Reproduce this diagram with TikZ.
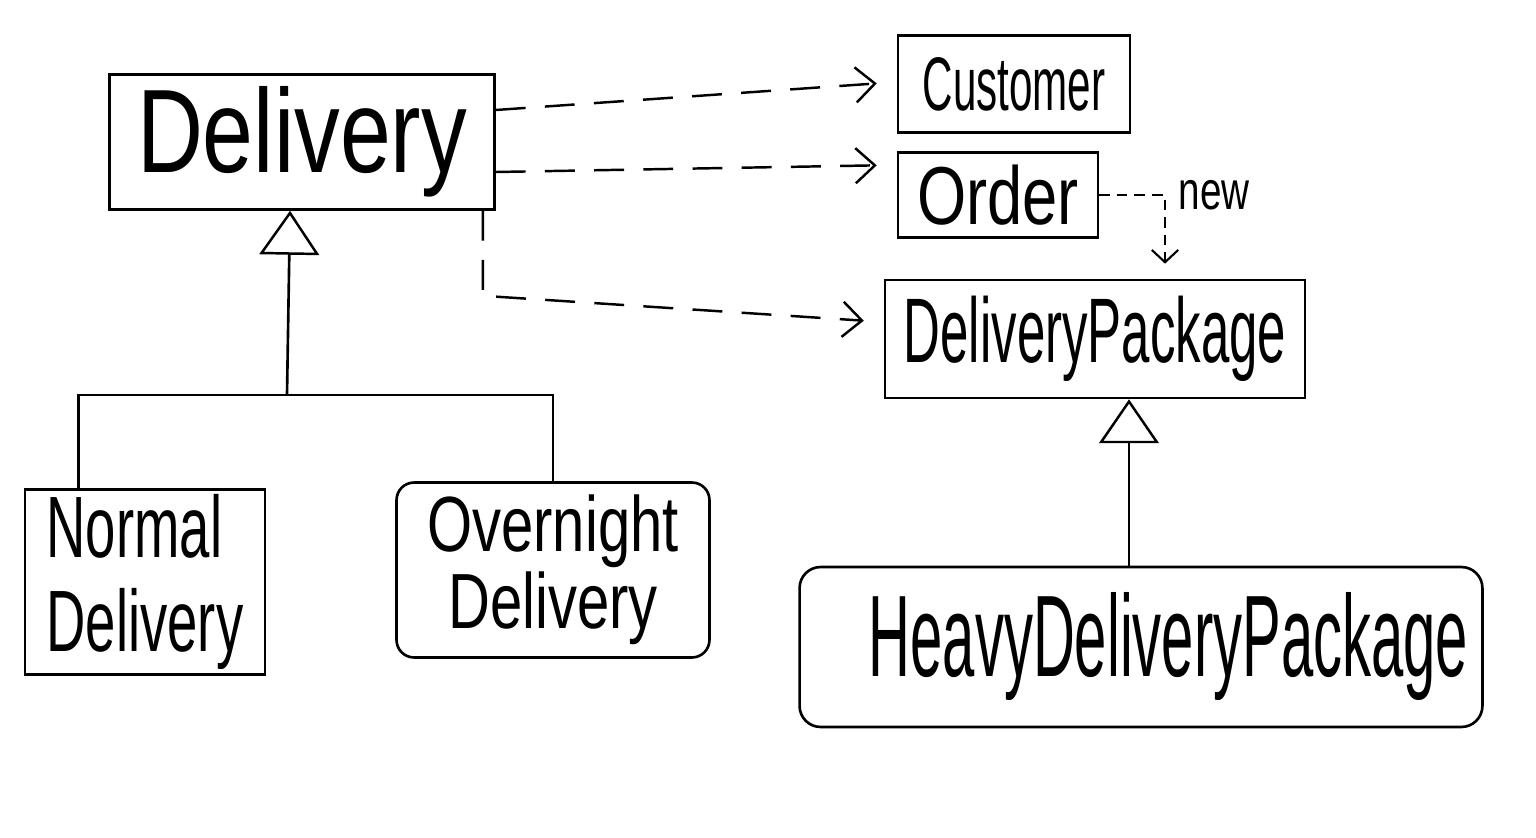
\documentclass[tikz,border=0pt]{standalone}
\usepackage{fontspec}
\setmainfont{Liberation Sans}
\usetikzlibrary{arrows.meta,calc}
\newcommand{\tallt}[2][1.45]{\scalebox{1}[#1]{#2}}
\tikzset{
  cls/.style={draw=black,line width=1.5pt,inner sep=0pt,align=center},
  dep/.style={-{Straight Barb[length=11pt,width=20pt,line width=1.4pt]},line width=1.4pt,dash pattern=on 17pt off 11pt,shorten >=0.4cm},
  newdep/.style={-{Straight Barb[length=7pt,width=15pt,line width=1.2pt]},line width=1.2pt,dash pattern=on 6pt off 4pt,shorten >=0.3cm},
  gen/.style={-{Triangle[open,length=25pt,width=34pt,line width=1.4pt]},line width=1.5pt},
  tree/.style={line width=1.5pt},
}
\begin{document}
\begin{tikzpicture}[x=0.02cm,y=-0.02cm]
  \useasboundingbox[fill=white] (0,0) rectangle (1536,838);
  % classes
  \node[cls,minimum width=7.7cm,minimum height=2.7cm,font={\fontsize{52}{60}\selectfont}] (delivery) at (302,142)
    {\tallt[1.3]{Delivery}};
  \node[cls,minimum width=4.64cm,minimum height=1.94cm,font={\fontsize{24}{28}\selectfont}] (customer) at (1014,84)
    {\tallt[1.8]{Customer}};
  \node[cls,minimum width=4cm,minimum height=1.7cm,font={\fontsize{36}{40}\selectfont}] (order) at (998,195)
    {\tallt[1.3]{Order}};
  \node[cls,minimum width=8.4cm,minimum height=2.36cm,font={\fontsize{29}{34}\selectfont}] (dpkg) at (1095,339)
    {\tallt[1.8]{DeliveryPackage}};
  \node[cls,align=left,minimum width=4.8cm,minimum height=3.7cm,font={\fontsize{31}{54}\selectfont}] (normal) at (145,582)
    {\tallt[1.6]{Normal}\\\tallt[1.6]{Delivery}};
  \node[cls,rounded corners=10pt,minimum width=6.26cm,minimum height=3.5cm,font={\fontsize{33}{44}\selectfont}] (overnight) at (553,570)
    {\tallt[1.35]{Overnight}\\\tallt[1.35]{Delivery}};
  \node[cls,rounded corners=12pt,minimum width=13.66cm,minimum height=3.2cm,font={\fontsize{33}{40}\selectfont}] (heavy) at (1141,647)
    {\hspace*{1.1cm}\tallt[2]{HeavyDeliveryPackage}};
  % dependencies
  \draw[dep] ($(delivery.east)+(0,-32)$) -- ($(customer.west)+(0,-2)$);
  \draw[dep] ($(delivery.east)+(0,30)$) -- ($(order.west)+(0,-30)$);
  \draw[dep] ($(delivery.south east)+(-13,0)$) -- ++(0,85) -- ($(dpkg.west)+(0,-17)$);
  \draw[newdep] (order.east) -| ($(dpkg.north)+(70,0)$)
    node[pos=0.5,right=4pt,font={\fontsize{22}{26}\selectfont}] (newlbl) {\tallt[1.4]{new}};
  % inheritance
  \coordinate (join) at (287,395);
  \draw[gen] (join) -- ($(delivery.south)+(-12,0)$);
  \draw[tree] ($(normal.north west)+(55,0)$) |- (join -| overnight.north) -- (overnight.north);
  \draw[gen] ($(heavy.north)+(-12,0)$) -- ($(dpkg.south)+(34,0)$);
\end{tikzpicture}
\end{document}
